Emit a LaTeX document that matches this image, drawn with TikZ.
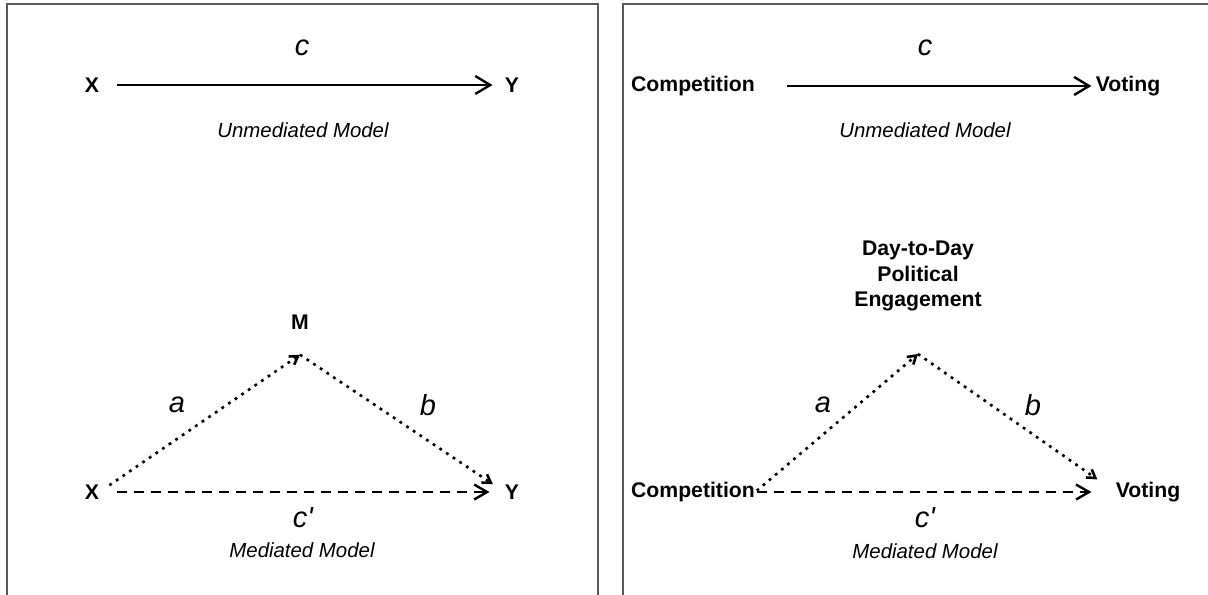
\documentclass[tikz,border=0pt]{standalone}
\usepackage{fontspec}
\setmainfont{Liberation Sans}
\usetikzlibrary{arrows.meta,positioning}

\begin{document}
\begin{tikzpicture}[
        x=0.5pt, y=-0.5pt,
        var/.style={font=\fontsize{10.6}{12.75}\selectfont\bfseries, inner sep=0pt, align=center},
        coef/.style={font=\fontsize{14.5}{16}\selectfont\itshape, inner sep=0pt},
        modeltxt/.style={font=\fontsize{10.2}{12}\selectfont\itshape, inner sep=0pt},
        panel/.style={draw=black!65, line width=1pt},
        direct/.style={-{Straight Barb[length=7.5pt,width=9pt]}, line width=1.2pt},
        indirect/.style={-{Straight Barb[length=6.5pt,width=7.5pt]}, line width=1.2pt, dash pattern=on 5pt off 3.5pt},
        route/.style={-{Straight Barb[length=4pt,width=5pt]}, line width=1.3pt, dash pattern=on 1.4pt off 2.6pt},
    ]
    \useasboundingbox (0,0) rectangle (1208,594);
    \draw[panel] (7,600) -- (7,4) -- (598,4) -- (598,600);
    \draw[panel] (623,600) -- (623,4) -- (1215,4);

    % left: unmediated
    \node[var] (x1) at (92,85) {X};
    \node[var] (y1) at (512,85) {Y};
    \node[coef] (c1) at (302,48) {c};
    \node[modeltxt] (t1) at (303,130) {Unmediated Model};
    \draw[direct, shorten <=9pt, shorten >=6pt] (x1) -- (y1);

    % left: mediated
    \node[var] (m2) at (300,322) {M};
    \coordinate[below=12.5pt of m2] (mtip);
    \node[var] (x2) at (92,492) {X};
    \node[var] (y2) at (512,492) {Y};
    \draw[route, shorten <=6pt] (x2.east) -- (mtip);
    \draw[route, shorten >=7pt] (mtip) -- (y2.west);
    \draw[indirect, shorten <=9pt, shorten >=7.5pt] (x2) -- (y2);
    \node[coef] (a2) at (177,405) {a};
    \node[coef] (b2) at (428,405) {b};
    \node[coef] (c2) at (303,518) {c\textquotesingle};
    \node[modeltxt] (t2) at (302,550) {Mediated Model};

    % right: unmediated
    \node[var] (x3) at (693,86) {Competition};
    \node[var] (y3) at (1128,86) {Voting};
    \node[coef] (c3) at (925,48) {c};
    \node[modeltxt] (t3) at (925,130) {Unmediated Model};
    \draw[direct, shorten <=16pt, shorten >=2pt] (x3) -- (y3);

    % right: mediated
    \node[var] (m4) at (918,276) {Day-to-Day\\Political\\Engagement};
    \coordinate (etip) at (918,354);
    \node[var] (x4) at (693,492) {Competition};
    \node[var] (y4) at (1148,492) {Voting};
    \draw[route, shorten <=1pt] (x4.east) -- (etip);
    \draw[route, shorten >=11pt] (etip) -- (y4.west);
    \draw[indirect, shorten <=1pt, shorten >=12pt] (x4) -- (y4);
    \node[coef] (a4) at (823,405) {a};
    \node[coef] (b4) at (1033,405) {b};
    \node[coef] (c4) at (925,518) {c\textquotesingle};
    \node[modeltxt] (t4) at (925,551) {Mediated Model};
\end{tikzpicture}
\end{document}
